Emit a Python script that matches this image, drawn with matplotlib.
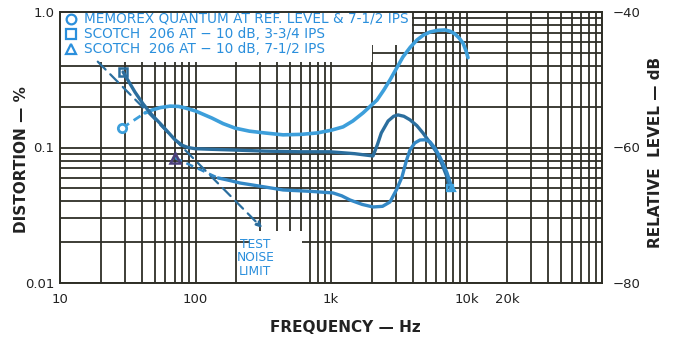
import matplotlib
matplotlib.use("Agg")
import matplotlib.pyplot as plt
from matplotlib.patches import Rectangle
from matplotlib.ticker import FixedLocator, NullLocator

# ---- data ----
# Memorex Quantum at ref level & 7-1/2 ips (circle)
memorex_lead_f = [28.7, 42.4]
memorex_lead_d = [0.139, 0.18]
memorex_f = [42.4, 47.7, 55, 64.9, 75, 83.7, 100, 132, 160, 196, 250, 326, 443, 600, 789, 1000,
             1228, 1450, 1723, 2185, 2450, 2724, 3050, 3395, 3850, 4310, 4800, 5380, 6100, 6940,
             7600, 8230, 8850, 9420, 9900, 10260]
memorex_d = [0.18, 0.189, 0.197, 0.202, 0.201, 0.196, 0.186, 0.165, 0.15, 0.139, 0.132, 0.128,
             0.124, 0.125, 0.128, 0.134, 0.142, 0.157, 0.18, 0.224, 0.265, 0.315, 0.385, 0.466,
             0.55, 0.621, 0.675, 0.712, 0.732, 0.737, 0.72, 0.688, 0.64, 0.59, 0.52, 0.46]

# Scotch 206 at -10 dB, 3-3/4 ips (square)
s334_f = [29.2, 35.7, 41, 47.7, 55, 62.7, 70, 79.4, 88, 99, 130, 180, 326, 600, 984, 1500, 2042,
          2200, 2350, 2640, 2900, 3120, 3450, 3830, 4300, 4770, 5400, 6060, 6600, 7180, 7560]
s334_d = [0.361, 0.257, 0.21, 0.174, 0.15, 0.130, 0.115, 0.104, 0.1, 0.098, 0.097, 0.096, 0.094,
          0.093, 0.093, 0.09, 0.0866, 0.105, 0.128, 0.157, 0.17, 0.174, 0.17, 0.16, 0.145, 0.128,
          0.108, 0.091, 0.075, 0.0606, 0.050]

# Scotch 206 at -10 dB, 7-1/2 ips (triangle)
s712_lead_f = [70.6, 147]
s712_lead_d = [0.0837, 0.0596]
s712_f = [147, 180, 213, 260, 326, 443, 700, 1035, 1200, 1380, 1700, 2042, 2400, 2724, 3050, 3340,
          3600, 3830, 4150, 4540, 4950, 5380, 5900, 6370, 6800, 7180, 7500, 7820]
s712_d = [0.0596, 0.057, 0.0547, 0.053, 0.0511, 0.0486, 0.0475, 0.0462, 0.044, 0.041, 0.038,
          0.0364, 0.0368, 0.0396, 0.049, 0.0606, 0.08, 0.096, 0.108, 0.1136, 0.114, 0.11, 0.098,
          0.085, 0.074, 0.065, 0.057, 0.050]

# test noise limit
noise_f = [19, 310]
noise_d = [0.43, 0.0255]

x_ticks = [10, 100, 1000, 10000, 20000]
x_labels = ["10", "100", "1k", "10k", "20k"]
y_ticks = [0.01, 0.1, 1.0]
y_labels = ["0.01", "0.1", "1.0"]
r_ticks = [-80, -60, -40]
r_labels = ["\u221280", "\u221260", "\u221240"]

legend_lines = ["MEMOREX QUANTUM AT REF. LEVEL & 7-1/2 IPS",
                "SCOTCH  206 AT \u2212 10 dB, 3-3/4 IPS",
                "SCOTCH  206 AT \u2212 10 dB, 7-1/2 IPS"]

# ---- style ----
plt.rcParams['font.family'] = ['DejaVu Sans']
GRID = '#2e2e26'
TXT = '#222222'
BLUE_TXT = '#2a8fdc'
C_A = '#3d9fdb'
C_B = '#2b6e9e'
C_C = '#3388c6'

W, H = 674, 338
fig = plt.figure(figsize=(W / 100, H / 100), dpi=100)
L, R, T, B = 60, 602, 12, 283
ax = fig.add_axes([L / W, 1 - B / H, (R - L) / W, (B - T) / H])
ax.set_xscale('log')
ax.set_yscale('log')
ax.set_xlim(10, 100000)
ax.set_ylim(0.01, 1.0)

# grid (graph paper)
minor_x = [m * 10 ** e for e in range(1, 5) for m in range(1, 10)] + [100000]
minor_y = [m * 10 ** e for e in range(-2, 0) for m in range(1, 10)] + [1.0]
for xv in minor_x:
    ax.axvline(xv, color=GRID, lw=1.3, zorder=1)
for yv in minor_y:
    ax.axhline(yv, color=GRID, lw=1.3, zorder=1)

for s in ax.spines.values():
    s.set_color(GRID)
    s.set_linewidth(1.4)

ax.xaxis.set_major_locator(FixedLocator(x_ticks))
ax.set_xticklabels(x_labels)
ax.xaxis.set_minor_locator(NullLocator())
ax.yaxis.set_major_locator(FixedLocator(y_ticks))
ax.set_yticklabels(y_labels)
ax.yaxis.set_minor_locator(NullLocator())
ax.tick_params(axis='both', length=0, labelsize=9.5, colors=TXT)
ax.tick_params(axis='x', pad=7)
ax.tick_params(axis='y', pad=4)

# white legend area covering the grid
ax.add_patch(Rectangle((0, (B - 62) / (B - T)), (372 - L) / (R - L), 1 - (B - 62) / (B - T),
                       transform=ax.transAxes, facecolor='white', edgecolor='none', zorder=2))
ax.add_patch(Rectangle(((372 - L) / (R - L), (B - 45) / (B - T)), 40 / (R - L), 1 - (B - 45) / (B - T),
                       transform=ax.transAxes, facecolor='white', edgecolor='none', zorder=2))
# white area behind noise label
ax.add_patch(Rectangle(((250 - L) / (R - L), 0.004), 52 / (R - L), (B - 232) / (B - T),
                       transform=ax.transAxes, facecolor='white', edgecolor='none', zorder=2))

# legend content
ys = [19, 34, 49]
mk = ['o', 's', '^']
for yy, m, t in zip(ys, mk, legend_lines):
    ya = (B - yy) / (B - T)
    ax.plot([(71 - L) / (R - L)], [ya], marker=m, ms=7, mfc='none', mec=BLUE_TXT, mew=1.6,
            transform=ax.transAxes, zorder=3, clip_on=False)
    ax.text((84 - L) / (R - L), ya, t, transform=ax.transAxes, color=BLUE_TXT,
            fontsize=9.8, va='center', ha='left', zorder=3)

# noise limit
ax.annotate('', xy=(noise_f[1], noise_d[1]), xytext=(noise_f[0], noise_d[0]),
            arrowprops=dict(arrowstyle='-|>', color=C_B, lw=1.6, ls=(0, (5, 3)),
                            shrinkA=0, shrinkB=0, mutation_scale=8), zorder=4)
ax.text(276, 0.0153, "TEST\nNOISE\nLIMIT", color=BLUE_TXT, fontsize=8.8,
        ha='center', va='center', linespacing=1.05, zorder=4)

# curves
ax.plot(memorex_lead_f, memorex_lead_d, color=C_A, lw=2.0, ls=(0, (3, 2)), zorder=5)
ax.plot(memorex_lead_f[:1], memorex_lead_d[:1], marker='o', ms=6, mfc='white', mec=C_A, mew=2, zorder=6)
ax.plot(memorex_f, memorex_d, color=C_A, lw=2.6, zorder=5, solid_capstyle='round', solid_joinstyle='round')

ax.plot(s334_f, s334_d, color=C_B, lw=2.4, zorder=5, solid_capstyle='round', solid_joinstyle='round')
ax.plot(s334_f[:1], s334_d[:1], marker='s', ms=6, mfc='none', mec=C_B, mew=1.8, zorder=6)
ax.plot(s334_f[-1:], s334_d[-1:], marker='s', ms=5, mfc='none', mec=C_A, mew=1.6, zorder=6)

ax.plot(s712_lead_f, s712_lead_d, color=C_C, lw=1.8, ls=(0, (3, 2)), zorder=5)
ax.plot(s712_lead_f[:1], s712_lead_d[:1], marker='^', ms=6.5, mfc='none', mec='#4a3f7a', mew=1.8, zorder=6)
ax.plot(s712_f, s712_d, color=C_C, lw=2.4, zorder=5, solid_capstyle='round', solid_joinstyle='round')
ax.plot(s712_f[-1:], s712_d[-1:], marker='^', ms=5, mfc='none', mec=C_A, mew=1.6, zorder=6)

# right axis
ax2 = ax.twinx()
ax2.set_ylim(-80, -40)
ax2.set_yticks(r_ticks)
ax2.set_yticklabels(r_labels)
ax2.tick_params(axis='y', length=0, labelsize=9.5, colors=TXT, pad=8)
for s in ax2.spines.values():
    s.set_visible(False)

fig.text(22 / W, 1 - 160 / H, "DISTORTION \u2014 %", rotation=90, ha='center', va='center',
         fontsize=11, fontweight='bold', color=TXT)
fig.text(655 / W, 1 - 152 / H, "RELATIVE  LEVEL \u2014 dB", rotation=90, ha='center', va='center',
         fontsize=11, fontweight='bold', color=TXT)
fig.text(345 / W, 1 - 327 / H, "FREQUENCY \u2014 Hz", ha='center', va='center',
         fontsize=11, fontweight='bold', color=TXT)

fig.savefig("out.png", dpi=100)
